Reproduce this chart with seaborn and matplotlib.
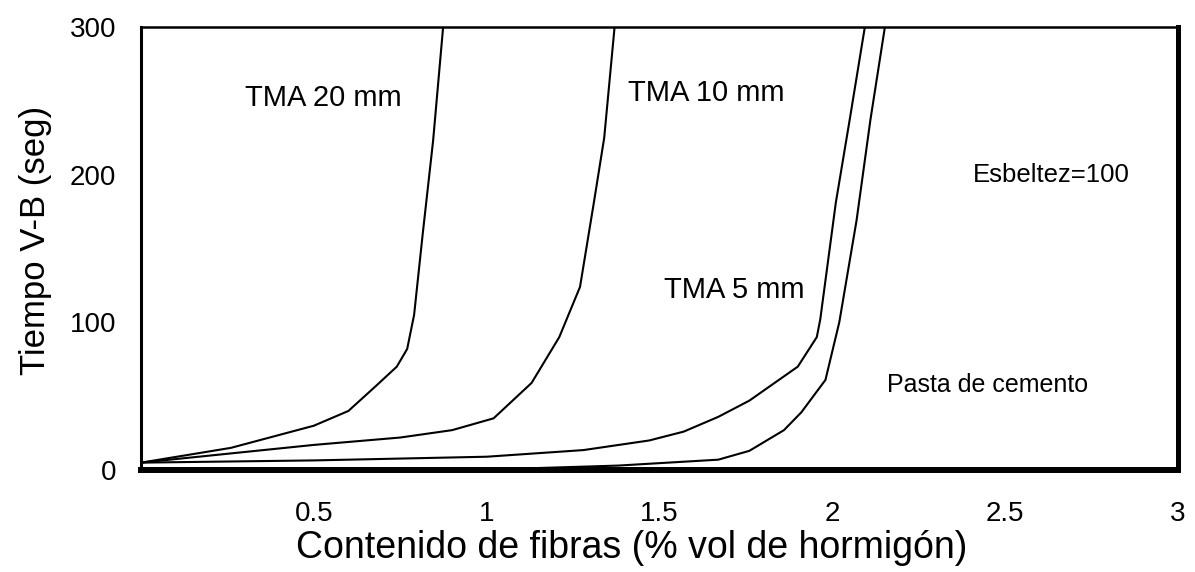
import matplotlib
matplotlib.use("Agg")
import matplotlib.pyplot as plt
import seaborn as sns
import pandas as pd

# Data
tma20_x = [0.0, 0.26, 0.50, 0.60, 0.68, 0.74, 0.77, 0.79, 0.815, 0.845, 0.874]
tma20_y = [5, 15, 30, 40, 57, 70, 82, 105, 160, 223, 300]

tma10_x = [0.0, 0.25, 0.50, 0.75, 0.90, 1.02, 1.13, 1.21, 1.27, 1.31, 1.34, 1.37]
tma10_y = [5, 11, 17, 22, 27, 35, 59, 90, 124, 181, 225, 300]

tma5_x = [0.0, 0.50, 1.00, 1.28, 1.47, 1.57, 1.67, 1.76, 1.90, 1.955, 1.965, 2.01, 2.05, 2.094]
tma5_y = [5, 6.5, 9, 13.5, 20, 26, 36, 47, 70, 90, 102, 181, 237, 300]

pasta_x = [1.10, 1.38, 1.67, 1.76, 1.86, 1.91, 1.98, 2.02, 2.07, 2.11, 2.152]
pasta_y = [1, 3, 7, 13, 27, 39, 61, 100, 169, 237, 300]

x_ticks = [0.5, 1, 1.5, 2, 2.5, 3]
x_tick_labels = ["0.5", "1", "1.5", "2", "2.5", "3"]
y_ticks = [0, 100, 200, 300]
y_tick_labels = ["0", "100", "200", "300"]

sns.set_theme(style="white")
plt.rcParams["font.family"] = ["Liberation Sans", "DejaVu Sans"]

fig = plt.figure(figsize=(11.95, 5.72), dpi=100)
ax = fig.add_axes([0.118, 0.1783, 0.8678, 0.7745])

series = [(tma20_x, tma20_y), (tma10_x, tma10_y), (tma5_x, tma5_y), (pasta_x, pasta_y)]
for xs, ys in series:
    df = pd.DataFrame({"x": xs, "y": ys})
    sns.lineplot(data=df, x="x", y="y", color="black", linewidth=1.5, ax=ax, sort=False)

ax.set_xlim(0, 3)
ax.set_ylim(0, 300)
ax.set_xticks(x_ticks)
ax.set_xticklabels(x_tick_labels)
ax.set_yticks(y_ticks)
ax.set_yticklabels(y_tick_labels)
ax.tick_params(axis="both", length=0, labelsize=20, colors="black")
ax.tick_params(axis="x", pad=22)
ax.tick_params(axis="y", pad=18)

for side, lw in [("left", 2.2), ("top", 1.8), ("bottom", 4.3), ("right", 3.6)]:
    ax.spines[side].set_visible(True)
    ax.spines[side].set_color("black")
    ax.spines[side].set_linewidth(lw)

ax.set_xlabel("Contenido de fibras (% vol de hormigón)", fontsize=27, color="black", va="center")
ax.xaxis.set_label_coords(0.4735, -0.176)
ax.set_ylabel("Tiempo V-B (seg)", fontsize=25, color="black", va="center")
ax.yaxis.set_label_coords(-0.102, 0.519)

ax.text(0.526, 252, "TMA 20 mm", fontsize=21, ha="center", va="center", color="black")
ax.text(1.635, 255, "TMA 10 mm", fontsize=21, ha="center", va="center", color="black")
ax.text(1.715, 122, "TMA 5 mm", fontsize=21, ha="center", va="center", color="black")
ax.text(2.633, 200, "Esbeltez=100", fontsize=18.5, ha="center", va="center", color="black")
ax.text(2.448, 57.5, "Pasta de cemento", fontsize=18, ha="center", va="center", color="black")

fig.savefig("out.png", dpi=100)
